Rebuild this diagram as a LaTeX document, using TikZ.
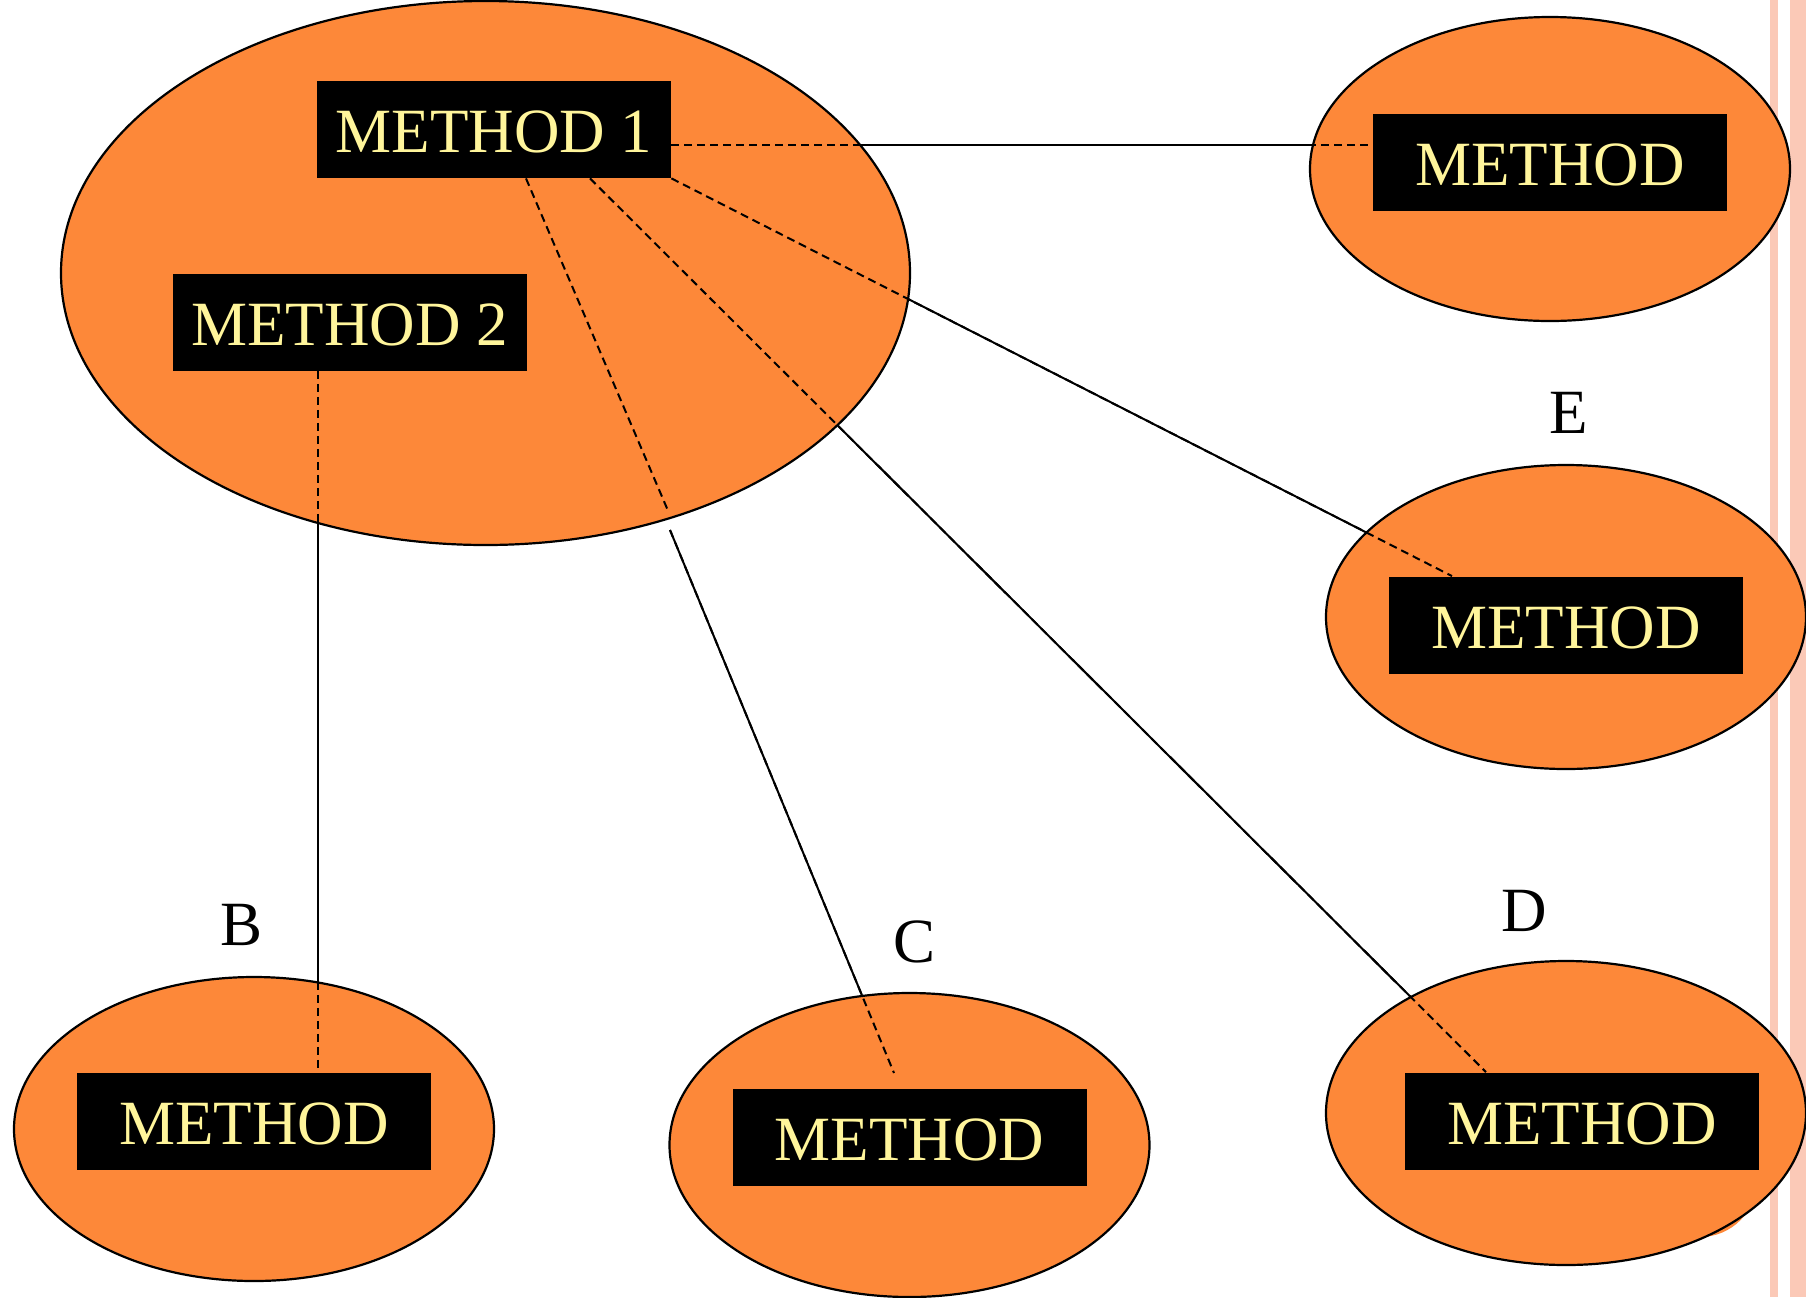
\documentclass[tikz,border=0pt]{standalone}
\usepackage{fontspec}
\setmainfont{Liberation Serif}
\usetikzlibrary{shapes.geometric}
\definecolor{blob}{HTML}{FD8839}
\definecolor{methodtext}{HTML}{FFF59B}
\definecolor{stripe}{HTML}{FBC9B7}
\pgfdeclarelayer{back}
\pgfdeclarelayer{wires}
\pgfsetlayers{back,wires,main}
\begin{document}
\begin{tikzpicture}[x=0.5pt,y=-0.5pt,
  oval/.style={ellipse, fill=blob, draw=black, line width=1.1pt, inner sep=0pt},
  mbox/.style={fill=black, text=methodtext, minimum width=177pt, minimum height=48.5pt,
    inner sep=0pt, text height=23.2pt, text depth=0pt, font=\fontsize{31.5}{36}\selectfont},
  tag/.style={font=\fontsize{31.5}{36}\selectfont, inner sep=0pt},
  wire/.style={line width=1pt},
  dwire/.style={line width=1pt, dash pattern=on 4pt off 2.5pt}]
\useasboundingbox (0,0) rectangle (1806,1297);

% page background and side stripes
\begin{pgfonlayer}{back}
  \fill[white] (0,0) rectangle (1806,1297);
  \fill[stripe] (1770,0) rectangle (1778,1297);
  \fill[stripe] (1790,0) rectangle (1806,1297);
  \fill[blob] (1700,1180) circle (57);
\end{pgfonlayer}

% ovals
\node[oval, minimum width=424.5pt, minimum height=272pt] (big) at (485.5,273) {};
\node[oval, minimum width=240pt, minimum height=152pt] (otop) at (1550,169) {};
\node[oval, minimum width=240pt, minimum height=152pt] (oe) at (1566,617) {};
\node[oval, minimum width=240pt, minimum height=152pt] (od) at (1566,1113) {};
\node[oval, minimum width=240pt, minimum height=152pt] (ob) at (254,1129) {};
\node[oval, minimum width=240pt, minimum height=152pt] (oc) at (909.5,1145) {};

% method boxes
\node[mbox] (m1) at (494,129.5) {METHOD 1};
\node[mbox] (m2) at (349.5,322) {METHOD 2};
\node[mbox] (mt) at (1550,162) {METHOD};
\node[mbox] (me) at (1566,625) {METHOD};
\node[mbox] (md) at (1582,1121) {METHOD};
\node[mbox] (mb) at (254,1121) {METHOD};
\node[mbox] (mc) at (909.5,1137) {METHOD};

% letters
\node[tag] (lb) at (242,925) {B};
\node[tag] (lc) at (914.5,942) {C};
\node[tag] (ld) at (1524,911) {D};
\node[tag] (le) at (1569,413) {E};

% connector anchors
\coordinate (hy) at (0,145);
\coordinate (cx) at (526,0);
\coordinate (dx) at (590,0);
\coordinate (ex) at (1452,0);
\coordinate (dxe) at (1486,0);
\coordinate (bx) at (318,0);
\coordinate (cend) at (894,1073);
\coordinate (cgapa) at (669,513);
\coordinate (cgapb) at (670,530);

% solid runs, hidden by the ovals
\begin{pgfonlayer}{wires}
  \draw[wire] (m1.east |- hy) -- (mt.west |- hy);
  \draw[wire] (m1.south east) -- (ex |- me.north);
  \draw[wire] (dx |- m1.south) -- (dxe |- md.north);
  \draw[wire] (cgapb) -- (cend);
  \draw[wire] (bx |- m2.south) -- (bx |- mb.north);
\end{pgfonlayer}

% dashed runs over the ovals
\draw[dwire] (m1.east |- hy) -- (mt.west |- hy);
\draw[dwire] (m1.south east) -- (ex |- me.north);
\draw[dwire] (dx |- m1.south) -- (dxe |- md.north);
\draw[dwire] (cx |- m1.south) -- (cgapa);
\draw[dwire] (cgapb) -- (cend);
\draw[dwire] (bx |- m2.south) -- (bx |- mb.north);
\end{tikzpicture}
\end{document}
